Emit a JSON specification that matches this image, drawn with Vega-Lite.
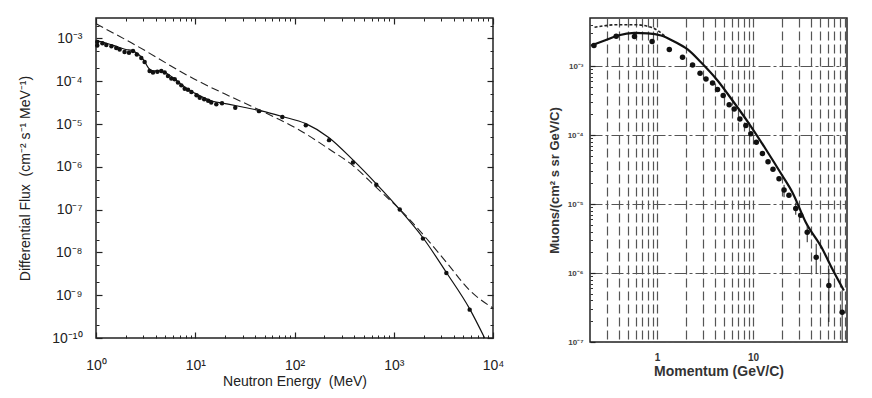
{
  "$schema": "https://vega.github.io/schema/vega-lite/v6.json",
  "autosize": {"type": "pad"},
  "padding": {"left": 18, "top": 16, "right": 0, "bottom": 0},
  "background": "white",
  "spacing": 97,
  "bounds": "flush",
  "config": {
    "view": {"stroke": "#222", "strokeWidth": 1.5},
    "axis": {"domain": false, "ticks": true, "tickOpacity": 1, "zindex": 1, "labelFont": "Liberation Sans", "titleFont": "Liberation Sans", "labelOverlap": false, "labelBound": false, "labelFlush": false}
  },
  "datasets": {
    "leftDots": [
      {"E": 1.03, "F": 8.3e-4}, {"E": 1.03, "F": 6.8e-4}, {"E": 1.16, "F": 7.7e-4}, {"E": 1.27, "F": 7.0e-4},
      {"E": 1.43, "F": 6.6e-4}, {"E": 1.60, "F": 6.0e-4}, {"E": 1.73, "F": 5.5e-4}, {"E": 1.94, "F": 4.8e-4},
      {"E": 2.15, "F": 4.6e-4}, {"E": 2.36, "F": 5.1e-4}, {"E": 2.58, "F": 4.2e-4}, {"E": 2.86, "F": 3.5e-4},
      {"E": 3.09, "F": 2.8e-4}, {"E": 3.47, "F": 1.74e-4}, {"E": 3.75, "F": 1.6e-4}, {"E": 4.15, "F": 1.67e-4},
      {"E": 4.55, "F": 1.74e-4}, {"E": 4.92, "F": 1.6e-4}, {"E": 5.31, "F": 1.33e-4}, {"E": 5.74, "F": 1.15e-4},
      {"E": 6.21, "F": 1.11e-4}, {"E": 6.70, "F": 9.3e-5}, {"E": 7.24, "F": 8.0e-5}, {"E": 7.83, "F": 6.7e-5},
      {"E": 8.45, "F": 6.3e-5}, {"E": 9.14, "F": 5.6e-5}, {"E": 10.3, "F": 4.7e-5}, {"E": 11.1, "F": 4.1e-5},
      {"E": 12.3, "F": 3.8e-5}, {"E": 13.5, "F": 3.5e-5}, {"E": 14.5, "F": 3.2e-5}, {"E": 16.3, "F": 2.9e-5},
      {"E": 18.6, "F": 3.05e-5}, {"E": 25.3, "F": 2.4e-5}, {"E": 43.9, "F": 2.0e-5}, {"E": 75.4, "F": 1.45e-5},
      {"E": 130, "F": 9.3e-6}, {"E": 223, "F": 4.2e-6}, {"E": 388, "F": 1.26e-6}, {"E": 667, "F": 3.8e-7},
      {"E": 1150, "F": 1.0e-7}, {"E": 1970, "F": 2.1e-8}, {"E": 3390, "F": 3.3e-9}, {"E": 5820, "F": 4.6e-10}
    ],
    "leftSolid": [
      {"E": 1.0, "F": 9.0e-4}, {"E": 1.3, "F": 7.6e-4}, {"E": 1.6, "F": 6.5e-4}, {"E": 2.0, "F": 5.5e-4},
      {"E": 2.3, "F": 5.2e-4}, {"E": 2.6, "F": 4.5e-4}, {"E": 3.0, "F": 3.2e-4}, {"E": 3.4, "F": 2.0e-4},
      {"E": 3.8, "F": 1.75e-4}, {"E": 4.5, "F": 1.75e-4}, {"E": 5.0, "F": 1.6e-4}, {"E": 6.0, "F": 1.2e-4},
      {"E": 7.0, "F": 9.0e-5}, {"E": 8.0, "F": 7.0e-5}, {"E": 10, "F": 5.2e-5}, {"E": 12, "F": 4.2e-5},
      {"E": 15, "F": 3.4e-5}, {"E": 20, "F": 3.0e-5}, {"E": 30, "F": 2.5e-5}, {"E": 45, "F": 2.05e-5},
      {"E": 75, "F": 1.5e-5}, {"E": 130, "F": 1.02e-5}, {"E": 223, "F": 4.8e-6}, {"E": 388, "F": 1.45e-6},
      {"E": 667, "F": 4.0e-7}, {"E": 1150, "F": 1.0e-7}, {"E": 1970, "F": 2.2e-8}, {"E": 3390, "F": 3.4e-9},
      {"E": 5820, "F": 4.8e-10}, {"E": 8240, "F": 1.0e-10}
    ],
    "leftDashed": [
      {"E": 1.0, "F": 2.2e-3}, {"E": 2.27, "F": 7.9e-4}, {"E": 10.6, "F": 1.02e-4}, {"E": 20, "F": 5.0e-5},
      {"E": 42.9, "F": 2.2e-5}, {"E": 108, "F": 7.6e-6}, {"E": 223, "F": 2.6e-6}, {"E": 388, "F": 1.07e-6},
      {"E": 667, "F": 3.3e-7}, {"E": 1380, "F": 6.6e-8}, {"E": 3390, "F": 5.9e-9}, {"E": 5820, "F": 1.3e-9},
      {"E": 10000, "F": 5.0e-10}
    ],
    "rightSolid": [
      {"p": 0.206, "F": 2.0e-3}, {"p": 0.284, "F": 2.36e-3}, {"p": 0.39, "F": 2.79e-3}, {"p": 0.581, "F": 3.04e-3},
      {"p": 0.798, "F": 3.0e-3}, {"p": 1.10, "F": 2.79e-3}, {"p": 1.51, "F": 2.28e-3}, {"p": 2.08, "F": 1.75e-3},
      {"p": 2.86, "F": 1.14e-3}, {"p": 4.26, "F": 6.2e-4}, {"p": 6.10, "F": 3.18e-4}, {"p": 9.09, "F": 1.46e-4},
      {"p": 13.5, "F": 6.3e-5}, {"p": 20.1, "F": 2.6e-5}, {"p": 25.6, "F": 1.49e-5}, {"p": 35.2, "F": 5.5e-6},
      {"p": 52.5, "F": 2.25e-6}, {"p": 66.6, "F": 1.15e-6}, {"p": 88.1, "F": 5.6e-7}
    ],
    "rightDotted": [
      {"p": 0.223, "F": 3.67e-3}, {"p": 0.39, "F": 4.0e-3}, {"p": 0.581, "F": 4.0e-3}, {"p": 0.867, "F": 3.67e-3},
      {"p": 1.2, "F": 2.75e-3}
    ],
    "rightDots": [
      {"p": 0.22, "F": 2.0e-3}, {"p": 0.375, "F": 2.72e-3}, {"p": 0.581, "F": 2.69e-3}, {"p": 0.887, "F": 2.28e-3},
      {"p": 1.34, "F": 1.75e-3}, {"p": 1.84, "F": 1.35e-3}, {"p": 2.34, "F": 1.04e-3}, {"p": 2.80, "F": 7.9e-4},
      {"p": 3.23, "F": 6.5e-4}, {"p": 3.78, "F": 5.7e-4}, {"p": 4.26, "F": 4.6e-4}, {"p": 4.88, "F": 3.76e-4},
      {"p": 5.63, "F": 2.75e-4}, {"p": 6.35, "F": 2.4e-4}, {"p": 7.28, "F": 1.72e-4}, {"p": 8.40, "F": 1.38e-4},
      {"p": 9.46, "F": 1.05e-4}, {"p": 10.8, "F": 7.9e-5}, {"p": 12.5, "F": 5.4e-5}, {"p": 14.3, "F": 4.1e-5},
      {"p": 16.1, "F": 3.2e-5}, {"p": 18.6, "F": 2.33e-5}, {"p": 21.0, "F": 1.6e-5}, {"p": 23.6, "F": 1.34e-5},
      {"p": 27.8, "F": 8.6e-6}, {"p": 31.3, "F": 6.9e-6}, {"p": 36.6, "F": 3.9e-6}, {"p": 45.4, "F": 1.7e-6},
      {"p": 61.5, "F": 6.6e-7}, {"p": 84.6, "F": 2.7e-7}
    ],
    "rightErr": [
      {"p": 21.0, "lo": 1.26e-5, "hi": 1.9e-5}, {"p": 27.8, "lo": 7.0e-6, "hi": 1.05e-5},
      {"p": 36.6, "lo": 2.8e-6, "hi": 4.9e-6}, {"p": 45.4, "lo": 9.8e-7, "hi": 2.66e-6},
      {"p": 61.5, "lo": 1.95e-7, "hi": 1.15e-6}, {"p": 84.6, "lo": 1.0e-7, "hi": 5.6e-7}
    ]
  },
  "hconcat": [
    {
      "width": 397,
      "height": 320,
      "layer": [
        {
          "data": {"name": "leftDots"},
          "mark": {"type": "point", "filled": true, "color": "#111", "size": 20, "opacity": 1},
          "encoding": {
            "x": {"field": "E", "type": "quantitative", "scale": {"type": "log", "domain": [1, 10000], "nice": false},
              "axis": {"orient": "bottom", "title": "Neutron Energy\u00a0 (MeV)", "grid": false,
                "values": [1, 10, 100, 1000, 10000],
                "labelExpr": "'10' + ['⁰','¹','²','³','⁴'][round(log(datum.value)/LN10)]",
                "tickSize": -6, "tickColor": "#222", "tickWidth": 1.2,
                "labelColor": "#222", "labelFontSize": 14, "labelPadding": 26,
                "titleFontSize": 14, "titleFontWeight": "normal", "titleColor": "#222", "titlePadding": 2}},
            "y": {"field": "F", "type": "quantitative", "scale": {"type": "log", "domain": [1e-10, 3e-3], "nice": false},
              "axis": {"orient": "left", "title": "Differential Flux\u00a0 (cm⁻² s⁻¹ MeV⁻¹)", "grid": false,
                "values": [1e-10, 1e-9, 1e-8, 1e-7, 1e-6, 1e-5, 1e-4, 1e-3],
                "labelExpr": "'10⁻' + ['','¹','²','³','⁴','⁵','⁶','⁷','⁸','⁹','¹⁰'][-round(log(datum.value)/LN10)]",
                "tickSize": -6, "tickColor": "#222", "tickWidth": 1.2,
                "labelColor": "#222", "labelFontSize": 14, "labelPadding": 20,
                "titleFontSize": 14, "titleFontWeight": "normal", "titleColor": "#222", "titlePadding": 19}}
          }
        },
        {
          "data": {"name": "leftSolid"},
          "mark": {"type": "line", "color": "#111", "strokeWidth": 1.2, "interpolate": "monotone"},
          "encoding": {
            "x": {"field": "E", "type": "quantitative",
              "axis": {"orient": "top", "title": null, "labels": false, "grid": false,
                "values": [1, 10, 100, 1000, 10000], "tickSize": -6, "tickColor": "#222", "tickWidth": 1.2}},
            "y": {"field": "F", "type": "quantitative",
              "axis": {"orient": "right", "title": null, "labels": false, "grid": false,
                "values": [1e-10, 1e-9, 1e-8, 1e-7, 1e-6, 1e-5, 1e-4, 1e-3], "tickSize": -6, "tickColor": "#222", "tickWidth": 1.2}}
          }
        },
        {
          "data": {"name": "leftDashed"},
          "mark": {"type": "line", "color": "#222", "strokeWidth": 1.1, "strokeDash": [8, 4], "interpolate": "monotone"},
          "encoding": {
            "x": {"field": "E", "type": "quantitative",
              "axis": {"orient": "bottom", "title": null, "labels": false, "grid": false,
                "values": [2,3,4,5,6,7,8,9,20,30,40,50,60,70,80,90,200,300,400,500,600,700,800,900,2000,3000,4000,5000,6000,7000,8000,9000],
                "tickSize": -3, "tickColor": "#222", "tickWidth": 1}},
            "y": {"field": "F", "type": "quantitative",
              "axis": {"orient": "left", "title": null, "labels": false, "grid": false,
                "values": [2e-10,5e-10,2e-9,5e-9,2e-8,5e-8,2e-7,5e-7,2e-6,5e-6,2e-5,5e-5,2e-4,5e-4,2e-3],
                "tickSize": -3, "tickColor": "#222", "tickWidth": 1}}
          }
        },
        {
          "data": {"name": "leftDashed"},
          "mark": {"type": "line", "opacity": 0, "color": "white"},
          "encoding": {
            "x": {"field": "E", "type": "quantitative",
              "axis": {"orient": "top", "title": null, "labels": false, "grid": false,
                "values": [2,3,4,5,6,7,8,9,20,30,40,50,60,70,80,90,200,300,400,500,600,700,800,900,2000,3000,4000,5000,6000,7000,8000,9000],
                "tickSize": -3, "tickColor": "#222", "tickWidth": 1}},
            "y": {"field": "F", "type": "quantitative",
              "axis": {"orient": "right", "title": null, "labels": false, "grid": false,
                "values": [2e-10,5e-10,2e-9,5e-9,2e-8,5e-8,2e-7,5e-7,2e-6,5e-6,2e-5,5e-5,2e-4,5e-4,2e-3],
                "tickSize": -3, "tickColor": "#222", "tickWidth": 1}}
          }
        }
      ],
      "resolve": {"axis": {"x": "independent", "y": "independent"}}
    },
    {
      "width": 257,
      "height": 324,
      "layer": [
        {
          "data": {"name": "rightSolid"},
          "mark": {"type": "line", "color": "#111", "strokeWidth": 2.2, "interpolate": "monotone"},
          "encoding": {
            "x": {"field": "p", "type": "quantitative", "scale": {"type": "log", "domain": [0.2, 95], "nice": false},
              "axis": {"orient": "bottom", "title": "Momentum (GeV/C)", "grid": true, "ticks": false, "zindex": 0,
                "values": [0.3,0.4,0.5,0.6,0.7,0.8,0.9,1,2,3,4,5,6,7,8,9,10,20,30,40,50,60,70,80,90],
                "labelExpr": "datum.value == 1 ? '1' : datum.value == 10 ? '10' : ''",
                "gridColor": "#555", "gridDash": [9, 4], "gridWidth": 1.2, "gridOpacity": 1,
                "labelColor": "#333", "labelFontSize": 10, "labelFontWeight": "bold", "labelPadding": 10,
                "titleFontSize": 14, "titleFontWeight": "bold", "titleColor": "#333", "titlePadding": 2}},
            "y": {"field": "F", "type": "quantitative", "scale": {"type": "log", "domain": [1e-7, 5e-3], "nice": false},
              "axis": {"orient": "left", "title": "Muons/(cm² s sr GeV/C)", "grid": true, "ticks": false, "zindex": 0,
                "values": [1e-7, 1e-6, 1e-5, 1e-4, 1e-3],
                "labelExpr": "'10⁻' + ['','¹','²','³','⁴','⁵','⁶','⁷','⁸','⁹','¹⁰'][-round(log(datum.value)/LN10)]",
                "gridColor": "#555", "gridDash": [12, 3, 3, 3], "gridWidth": 1.2,
                "labelColor": "#444", "labelFontSize": 8, "labelFontWeight": "bold", "labelPadding": 7,
                "titleFontSize": 13, "titleFontWeight": "bold", "titleColor": "#333", "titlePadding": 6}}
          }
        },
        {
          "data": {"name": "rightDotted"},
          "mark": {"type": "line", "color": "#222", "strokeWidth": 1.6, "strokeDash": [3, 2], "interpolate": "monotone"},
          "encoding": {
            "x": {"field": "p", "type": "quantitative"},
            "y": {"field": "F", "type": "quantitative",
              "axis": {"orient": "left", "title": null, "labels": false, "grid": false,
                "values": [1e-7, 1e-6, 1e-5, 1e-4, 1e-3],
                "tickSize": -5, "tickColor": "#222", "tickWidth": 1.2}}
          }
        },
        {
          "data": {"name": "rightErr"},
          "mark": {"type": "rule", "color": "#222", "strokeWidth": 1},
          "encoding": {
            "x": {"field": "p", "type": "quantitative"},
            "y": {"field": "lo", "type": "quantitative",
              "axis": {"orient": "left", "title": null, "labels": false, "grid": false,
                "values": [2e-7,3e-7,4e-7,5e-7,6e-7,7e-7,8e-7,9e-7,2e-6,3e-6,4e-6,5e-6,6e-6,7e-6,8e-6,9e-6,2e-5,3e-5,4e-5,5e-5,6e-5,7e-5,8e-5,9e-5,2e-4,3e-4,4e-4,5e-4,6e-4,7e-4,8e-4,9e-4,2e-3,3e-3,4e-3],
                "tickSize": -2.5, "tickColor": "#333", "tickWidth": 1}},
            "y2": {"field": "hi"}
          }
        },
        {
          "data": {"name": "rightDots"},
          "mark": {"type": "point", "filled": true, "color": "#111", "size": 30, "opacity": 1},
          "encoding": {
            "x": {"field": "p", "type": "quantitative"},
            "y": {"field": "F", "type": "quantitative", "axis": null}
          }
        }
      ],
      "resolve": {"axis": {"y": "independent"}}
    }
  ]
}
